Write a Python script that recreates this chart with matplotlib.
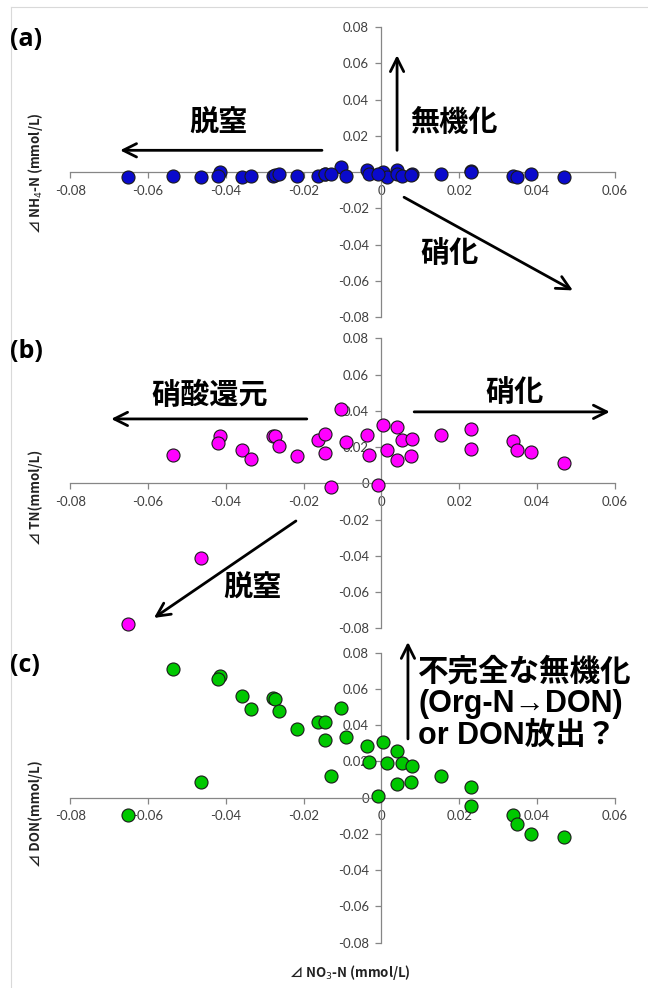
import numpy as np
import matplotlib
matplotlib.use("Agg")
import matplotlib.pyplot as plt
from matplotlib.ticker import FuncFormatter, MultipleLocator

plt.rcParams['font.family'] = ['Lato', 'Noto Sans CJK JP', 'DejaVu Sans']

# ---- data ----
d_no3 = [-0.0652, -0.0537, -0.0463, -0.0416, -0.0420, -0.0359, -0.0335, -0.0279,
         -0.0274, -0.0264, -0.0217, -0.0162, -0.0146, -0.0145, -0.0105, -0.0090,
         -0.0129, -0.0036, -0.0031, 0.0004, 0.0015, 0.0040, 0.0040, 0.0053,
         0.0078, 0.0076, -0.0010, 0.0152, 0.0229, 0.0229, 0.0337, 0.0349,
         0.0385, 0.0468]
d_nh4 = [-0.0025, -0.0019, -0.0025, 0.0003, -0.0019, -0.0027, -0.0019, -0.0019,
         -0.0017, -0.0011, -0.0019, -0.0019, -0.0011, -0.0013, 0.0030, -0.0023,
         -0.0013, 0.0009, -0.0011, 0.0002, -0.0025, 0.0009, -0.0010, -0.0021,
         -0.0011, -0.0015, -0.0011, -0.0013, 0.0005, 0.0002, -0.0019, -0.0028,
         -0.0011, -0.0025]
d_tn = [-0.0775, 0.0155, -0.0410, 0.0260, 0.0220, 0.0186, 0.0135, 0.0262,
        0.0262, 0.0206, 0.0150, 0.0240, 0.0270, 0.0165, 0.0408, 0.0230,
        -0.0020, 0.0265, 0.0158, 0.0320, 0.0185, 0.0310, 0.0130, 0.0240,
        0.0245, 0.0152, -0.0008, 0.0265, 0.0300, 0.0190, 0.0232, 0.0185,
        0.0175, 0.0110]
d_don = [-0.0095, 0.0711, 0.0086, 0.0670, 0.0656, 0.0562, 0.0490, 0.0549,
         0.0542, 0.0479, 0.0380, 0.0420, 0.0420, 0.0317, 0.0494, 0.0334,
         0.0119, 0.0283, 0.0195, 0.0308, 0.0189, 0.0259, 0.0075, 0.0193,
         0.0173, 0.0087, 0.0011, 0.0119, 0.0058, -0.0047, -0.0096, -0.0148,
         -0.0200, -0.0215]

panels = ['(a)', '(b)', '(c)']
ylabels = ['⊿ NH$_4$-N (mmol/L)', '⊿ TN(mmol/L)', '⊿ DON(mmol/L)']
colors = ['#0a0acc', '#ff00ff', '#00c800']
xlabel = '⊿ NO$_3$-N (mmol/L)'
note_c = ['不完全な無機化', '(Org-N→DON)', 'or DON放出？']

AXC = '#868686'
TXC = '#404040'
JP = ['Noto Sans CJK JP', 'DejaVu Sans']

fig = plt.figure(figsize=(6.48, 9.88), dpi=100)
bottoms = [0.6791, 0.3641, 0.0459]
ylab_y = [0.8249, 0.497, 0.176]
axes = []
for i, yv in enumerate([d_nh4, d_tn, d_don]):
    ax = fig.add_axes([0.1085, bottoms[i], 0.8404, 0.2935])
    ax.scatter(d_no3, yv, s=88, c=colors[i], edgecolors='#1a1a1a',
               linewidths=0.8, zorder=3, clip_on=False)
    ax.set_xlim(-0.08, 0.06)
    ax.set_ylim(-0.08, 0.08)
    for s in ['top', 'right']:
        ax.spines[s].set_visible(False)
    ax.spines['left'].set_position(('data', 0))
    ax.spines['bottom'].set_position(('data', 0))
    for s in ['left', 'bottom']:
        ax.spines[s].set_color(AXC)
        ax.spines[s].set_linewidth(0.9)
    ax.xaxis.set_major_locator(MultipleLocator(0.02))
    ax.yaxis.set_major_locator(MultipleLocator(0.02))
    fmt = FuncFormatter(lambda v, p: '0' if abs(v) < 1e-9 else '%g' % round(v, 2))
    ax.xaxis.set_major_formatter(fmt)
    ax.yaxis.set_major_formatter(fmt)
    ax.tick_params(direction='out', length=4, width=0.9, color=AXC,
                   labelcolor=TXC, labelsize=9.5, pad=5)
    ax.patch.set_alpha(0)
    fig.text(0.055, ylab_y[i], ylabels[i], rotation=90, ha='center',
             va='center', fontsize=9.5, fontweight='bold', color='#222222',
             family=JP)
    fig.text(0.016, bottoms[i] + 0.2935 - 0.013, panels[i], fontsize=18,
             fontweight='bold', ha='left', va='center',
             family=['Open Sans', 'DejaVu Sans'])
    axes.append(ax)

fig.text(0.54, 0.0155, xlabel, ha='center', va='center', fontsize=9.5,
         fontweight='bold', color='#222222', family=JP)

arw = dict(arrowstyle='->', lw=2.0, color='black', mutation_scale=24,
           shrinkA=0, shrinkB=0)
jp_kw = dict(fontsize=21, fontweight='bold', family=JP, ha='center', va='center')


def arrow(ax, x0, y0, x1, y1):
    ax.annotate('', xy=(x1, y1), xytext=(x0, y0), arrowprops=arw,
                annotation_clip=False)


# (a)
ax = axes[0]
arrow(ax, -0.0153, 0.012, -0.0672, 0.012)
ax.text(-0.042, 0.0275, '脱窒', **jp_kw)
arrow(ax, 0.004, 0.012, 0.004, 0.0645)
ax.text(0.0187, 0.0275, '無機化', **jp_kw)
arrow(ax, 0.0058, -0.0139, 0.0492, -0.0653)
ax.text(0.0174, -0.0448, '硝化', **jp_kw)

# (b)
ax = axes[1]
ax.text(-0.0441, 0.0487, '硝酸還元', **jp_kw)
arrow(ax, -0.0192, 0.0355, -0.0695, 0.0355)
ax.text(0.0343, 0.0504, '硝化', **jp_kw)
arrow(ax, 0.0084, 0.0394, 0.0587, 0.0394)
arrow(ax, -0.022, -0.0208, -0.0585, -0.0743)
ax.text(-0.0333, -0.0578, '脱窒', **jp_kw)

# (c)
ax = axes[2]
arrow(ax, 0.0068, 0.0324, 0.0068, 0.0859)
ax.text(0.0094, 0.0515, '\n'.join(note_c), fontsize=22, fontweight='bold',
        family=['Liberation Sans', 'Noto Sans CJK JP'], ha='left',
        va='center', linespacing=1.08)

# light frame lines seen at the top and left edge
fig.add_artist(plt.Line2D([11 / 648, 1], [1 - 7 / 988, 1 - 7 / 988],
                          color='#d9d9d9', lw=0.8))
fig.add_artist(plt.Line2D([11 / 648, 11 / 648], [0, 1 - 7 / 988],
                          color='#d9d9d9', lw=0.8))

fig.savefig('out.png', dpi=100)
